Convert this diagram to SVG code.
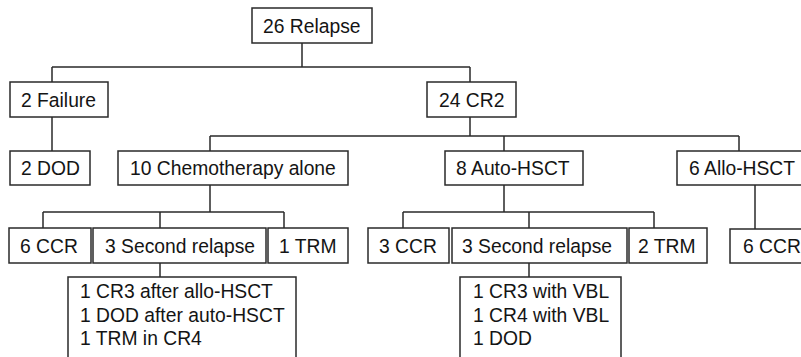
<svg xmlns="http://www.w3.org/2000/svg" width="801" height="357" viewBox="0 0 801 357">
<style>
rect{fill:#fff;stroke:#2a2a2a;stroke-width:1.5}
text{font-family:"Liberation Sans",Arial,sans-serif;font-size:19.3px;fill:#141414}
#connectors path{fill:none;stroke:#2a2a2a;stroke-width:1.5}
</style>
<rect x="0" y="0" width="801" height="357" style="stroke:none"/>
<g id="connectors">
<path d="M302 43V67M52 67H470M52 67V82M470 67V82"/>
<path d="M52 117V151"/>
<path d="M470 117V136M210 136H739M210 136V151M504 136V151M739 136V151"/>
<path d="M210 185V212M43 212H284M43 212V228M160 212V228M284 212V228"/>
<path d="M160 262V277"/>
<path d="M504 185V212M403 212H654M403 212V228M529 212V228M654 212V228"/>
<path d="M529 263V277"/>
<path d="M755 185V229"/>
</g>
<g id="n-relapse"><rect x="252" y="8" width="120" height="35"/><text x="263" y="32.5">26 Relapse</text></g>
<g id="n-failure"><rect x="10" y="82" width="98" height="35"/><text x="21" y="106.5">2 Failure</text></g>
<g id="n-cr2"><rect x="427" y="82" width="89" height="35"/><text x="439" y="106.5">24 CR2</text></g>
<g id="n-dod"><rect x="10" y="151" width="80" height="34"/><text x="21" y="175">2 DOD</text></g>
<g id="n-chemo"><rect x="118" y="151" width="230" height="34"/><text x="130" y="175">10 Chemotherapy alone</text></g>
<g id="n-auto"><rect x="445" y="151" width="138" height="34"/><text x="456" y="175">8 Auto-HSCT</text></g>
<g id="n-allo"><rect x="677" y="151" width="140" height="34"/><text x="689" y="175">6 Allo-HSCT</text></g>
<g id="n-ccr1"><rect x="9" y="228" width="82" height="35"/><text x="20" y="252.5">6 CCR</text></g>
<g id="n-rel1"><rect x="93" y="228" width="173" height="35"/><text x="105" y="252.5">3 Second relapse</text></g>
<g id="n-trm1"><rect x="268" y="228" width="80" height="35"/><text x="279" y="252.5">1 TRM</text></g>
<g id="n-ccr2"><rect x="368" y="228" width="81" height="35"/><text x="379" y="252.5">3 CCR</text></g>
<g id="n-rel2"><rect x="452" y="228" width="175" height="35"/><text x="462" y="252.5">3 Second relapse</text></g>
<g id="n-trm2"><rect x="629" y="228" width="78" height="35"/><text x="638" y="252.5">2 TRM</text></g>
<g id="n-ccr3"><rect x="730" y="229" width="90" height="34"/><text x="743" y="252.5">6 CCR</text></g>
<g id="n-list1"><rect x="68" y="277" width="228" height="100"/><text x="80" y="298">1 CR3 after allo-HSCT</text><text x="80" y="321.5">1 DOD after auto-HSCT</text><text x="80" y="345">1 TRM in CR4</text></g>
<g id="n-list2"><rect x="460" y="277" width="161" height="100"/><text x="473" y="298">1 CR3 with VBL</text><text x="473" y="321.5">1 CR4 with VBL</text><text x="473" y="345">1 DOD</text></g>
</svg>
